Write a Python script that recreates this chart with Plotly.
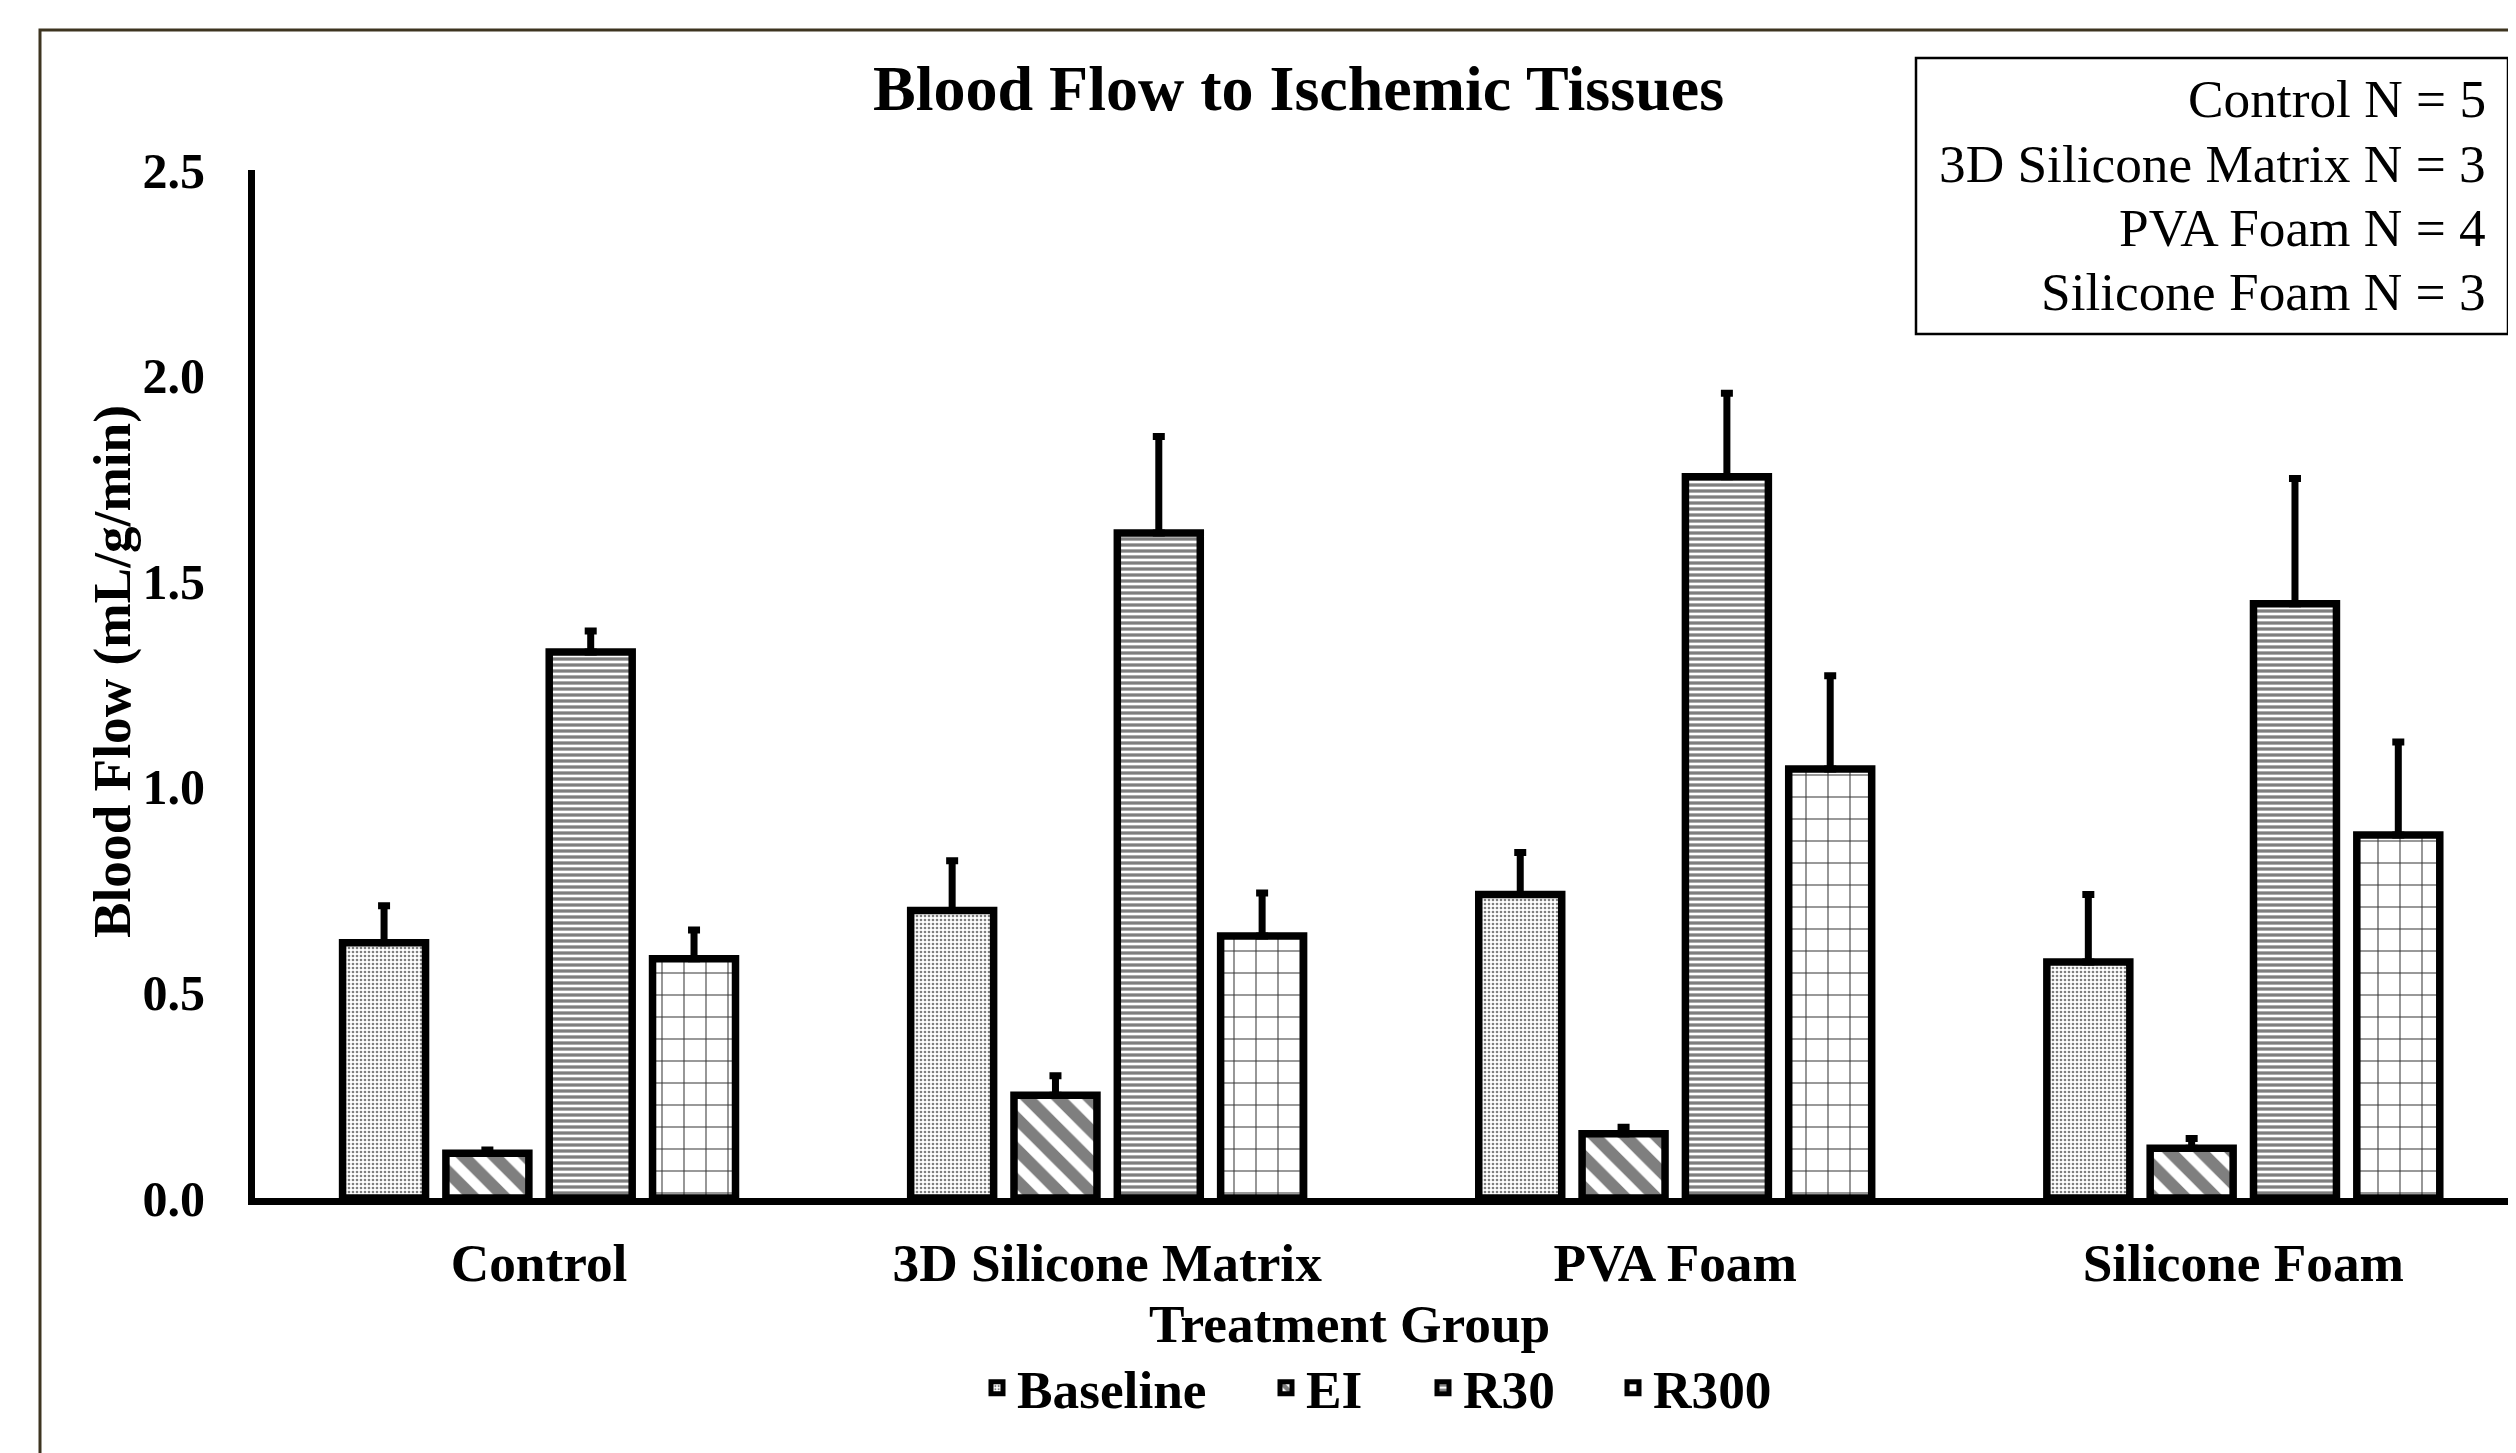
import plotly.graph_objects as go

groups = ["Control", "3D Silicone Matrix", "PVA Foam", "Silicone Foam"]
series = ["Baseline", "EI", "R30", "R300"]
values = {
    "Baseline": [0.621, 0.699, 0.738, 0.574],
    "EI":       [0.109, 0.250, 0.156, 0.121],
    "R30":      [1.328, 1.617, 1.754, 1.445],
    "R300":     [0.582, 0.637, 1.043, 0.883],
}
errors = {
    "Baseline": [0.090, 0.121, 0.102, 0.164],
    "EI":       [0.008, 0.047, 0.016, 0.024],
    "R30":      [0.051, 0.235, 0.203, 0.305],
    "R300":     [0.070, 0.105, 0.227, 0.226],
}
n_labels = ["Control N = 5", "3D Silicone Matrix N = 3", "PVA Foam N = 4", "Silicone Foam N = 3"]
y_ticks = [0, 0.5, 1.0, 1.5, 2.0, 2.5]

patterns = {
    "Baseline": dict(shape=".", size=4, solidity=0.35, fgcolor="black", bgcolor="white"),
    "EI": dict(shape="\\", size=22, solidity=0.55, fgcolor="black", bgcolor="white"),
    "R30": dict(shape="-", size=6, solidity=0.55, fgcolor="black", bgcolor="white"),
    "R300": dict(shape="+", size=22, solidity=0.09, fgcolor="black", bgcolor="white", fgopacity=0.8),
}

FONT = "Times New Roman, Liberation Serif, serif"
FS = 53.3
OFF = 8  # page offset of the figure inside the html body
W, H = 2516 - OFF, 1453 - OFF
L, R = 255 - OFF, 0
T = 170 - OFF
B = H - (1198 - OFF)
PW, PH = W - L - R, H - T - B

def px(X):
    return (X - OFF - L) / PW

def py(Y):
    return (H - B - (Y - OFF)) / PH

legend_ids = ["legend", "legend2", "legend3", "legend4"]
legend_text_x = [1017, 1306, 1463, 1653]

fig = go.Figure()
for s, lid in zip(series, legend_ids):
    fig.add_trace(go.Bar(
        name=s, x=groups, y=values[s], legend=lid,
        marker=dict(color="white", pattern=patterns[s], line=dict(color="black", width=7.5)),
        error_y=dict(type="data", array=errors[s], arrayminus=[0]*4, symmetric=False,
                     color="black", thickness=7, width=6),
    ))

leg_common = dict(orientation="h", xanchor="left", yanchor="middle", y=py(1388),
                  font=dict(family=FONT, size=FS, color="black", weight="bold"),
                  bgcolor="rgba(0,0,0,0)", borderwidth=0)
layout_legends = {}
for lid, tx in zip(legend_ids, legend_text_x):
    layout_legends[lid] = dict(leg_common, x=px(tx - 40))

fig.update_layout(
    width=W, height=H,
    margin=dict(l=L, r=R, t=T, b=B, autoexpand=False),
    paper_bgcolor="white", plot_bgcolor="white",
    barmode="group", bargap=0.2725, bargroupgap=0.197,
    font=dict(family=FONT, color="black", size=FS),
    showlegend=True,
    **layout_legends,
)
fig.update_xaxes(range=[-0.5, 3.48], showline=True, linecolor="black", linewidth=7,
                 showgrid=False, zeroline=False, ticks="", ticklabelstandoff=12,
                 tickfont=dict(family=FONT, size=FS, color="black", weight="bold"))
fig.update_yaxes(range=[0, 2.5], showline=True, linecolor="black", linewidth=7,
                 showgrid=False, zeroline=False, ticks="", tickvals=y_ticks,
                 ticktext=[f"{v:.1f}" for v in y_ticks], ticklabelstandoff=33,
                 tickfont=dict(family=FONT, size=50, color="black", weight="bold"))

ann = []
ann.append(dict(text="<b>Blood Flow to Ischemic Tissues</b>", x=px(1298), y=py(88), xref="paper", yref="paper",
                showarrow=False, xanchor="center", yanchor="middle", font=dict(family=FONT, size=64)))
ann.append(dict(text="<b>Blood Flow (mL/g/min)</b>", x=px(112), y=py(672), xref="paper", yref="paper",
                showarrow=False, textangle=-90, xanchor="center", yanchor="middle", font=dict(family=FONT, size=FS)))
ann.append(dict(text="<b>Treatment Group</b>", x=px(1349), y=py(1324), xref="paper", yref="paper",
                showarrow=False, xanchor="center", yanchor="middle", font=dict(family=FONT, size=FS)))
for lab, Y in zip(n_labels, [99, 164, 228, 292]):
    ann.append(dict(text=lab, x=px(2488), y=py(Y), xref="paper", yref="paper",
                    showarrow=False, xanchor="right", yanchor="middle", font=dict(family=FONT, size=FS)))
fig.update_layout(annotations=ann)

fig.add_shape(type="rect", xref="paper", yref="paper", x0=px(1916), x1=px(2508), y0=py(334), y1=py(58),
              line=dict(color="black", width=2.5), fillcolor="rgba(0,0,0,0)", layer="above")
fig.add_shape(type="rect", xref="paper", yref="paper", x0=px(40), x1=px(2700), y0=py(1600), y1=py(30),
              line=dict(color="#3d3420", width=3), fillcolor="rgba(0,0,0,0)", layer="above")

fig.write_html("out.html")
